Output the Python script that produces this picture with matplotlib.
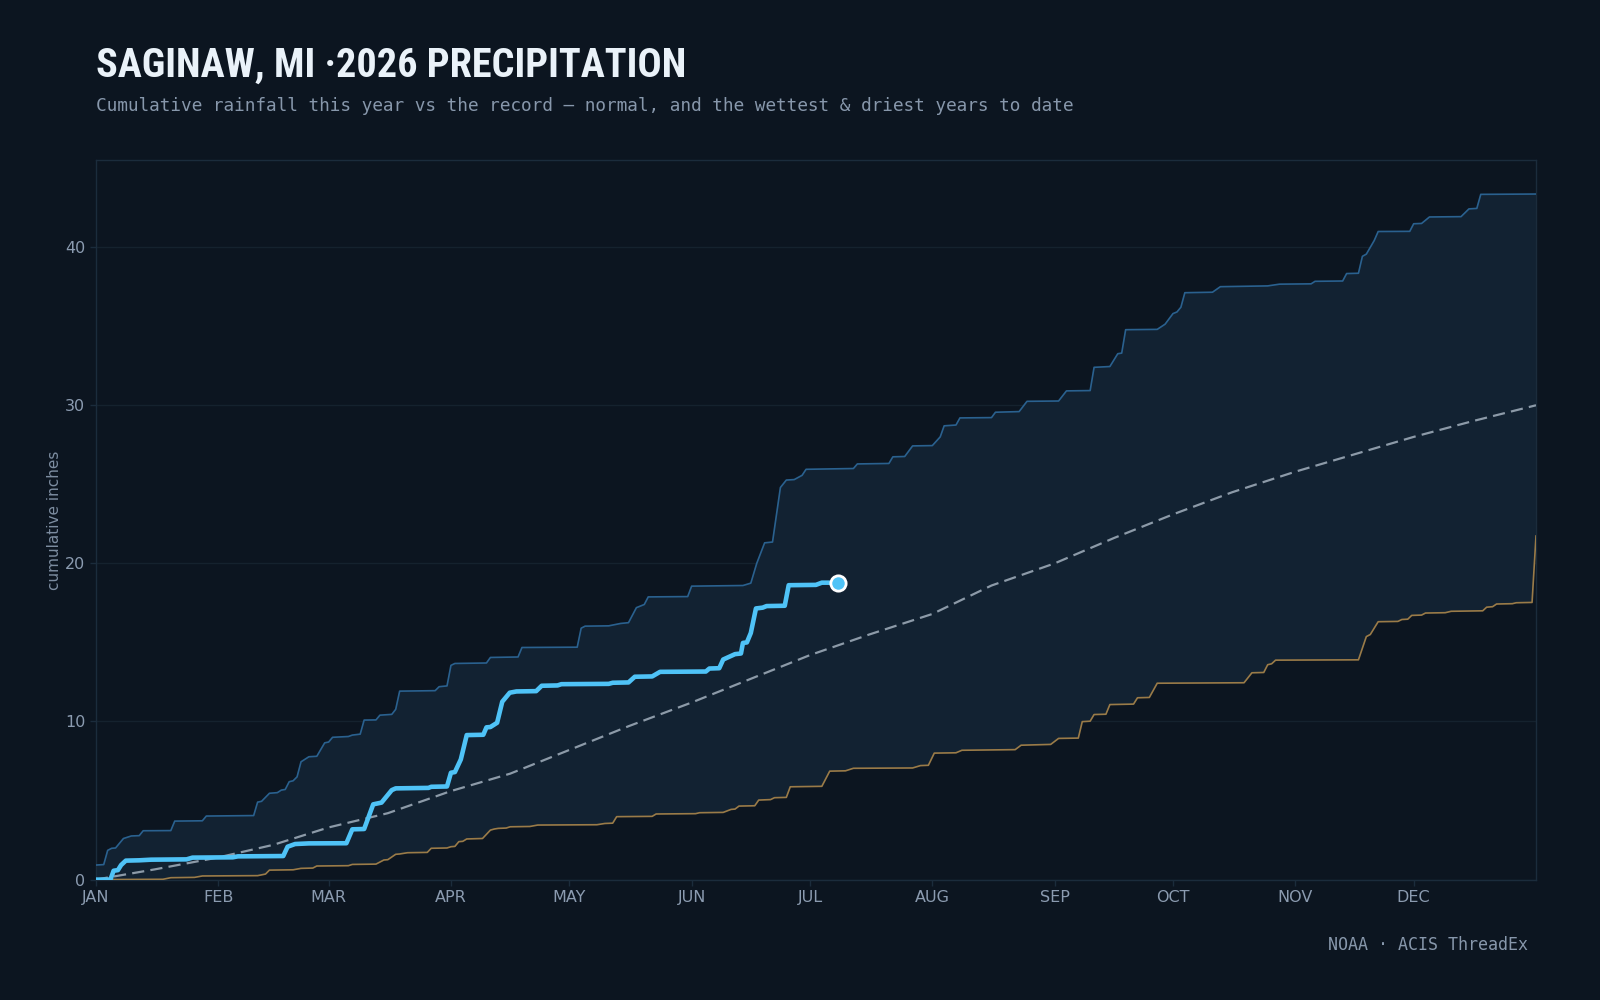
import numpy as np
import matplotlib
matplotlib.use("Agg")
import matplotlib.pyplot as plt
from matplotlib import font_manager

# ---------------- data (day of year, cumulative inches) ----------------
month_labels = ["JAN", "FEB", "MAR", "APR", "MAY", "JUN",
                "JUL", "AUG", "SEP", "OCT", "NOV", "DEC"]
month_starts = [0, 31, 59, 90, 120, 151, 181, 212, 243, 273, 304, 334]
y_ticks = [0, 10, 20, 30, 40]

wet_days = [0, 2, 3, 4, 5, 7, 9, 11, 12, 19, 20, 27, 28, 40, 41, 42, 44, 46, 47, 48,
            49, 50, 51, 52, 54, 56, 58, 59, 60, 64, 65, 67, 68, 71, 72, 75, 76, 77, 86,
            87, 89, 90, 91, 99, 100, 107, 108, 122, 123, 124, 130, 133, 135, 137, 139,
            140, 150, 151, 164, 166, 167.5, 169.5, 171.5, 173.5, 175, 177, 179, 180,
            192, 193, 201, 202, 205, 207, 212, 214, 215, 218, 219, 227, 228, 234, 236,
            244, 246, 252, 253, 257, 259, 260, 261, 269, 271, 273, 274, 275, 276, 283,
            285, 297, 300, 308, 309, 316, 317, 320, 321, 322, 324, 325, 333, 334, 336,
            338, 346, 348, 350, 351, 365]
wet_vals = [0.92, 0.95, 1.85, 1.98, 2.0, 2.6, 2.76, 2.78, 3.09, 3.1, 3.7, 3.72, 4.02,
            4.05, 4.9, 4.95, 5.46, 5.5, 5.66, 5.7, 6.19, 6.25, 6.5, 7.45, 7.77, 7.8,
            8.65, 8.7, 9.0, 9.05, 9.14, 9.2, 10.09, 10.1, 10.4, 10.45, 10.77, 11.92,
            11.95, 12.2, 12.25, 13.55, 13.67, 13.7, 14.05, 14.08, 14.68, 14.7, 15.9,
            16.03, 16.05, 16.2, 16.25, 17.2, 17.4, 17.88, 17.9, 18.56, 18.6, 18.75,
            20.0, 21.3, 21.35, 24.8, 25.27, 25.3, 25.57, 25.95, 26.0, 26.29, 26.32,
            26.74, 26.76, 27.43, 27.45, 28.0, 28.7, 28.75, 29.2, 29.22, 29.56, 29.6,
            30.25, 30.27, 30.91, 30.93, 32.4, 32.45, 33.26, 33.3, 34.78, 34.8, 35.13,
            35.8, 35.9, 36.2, 37.12, 37.15, 37.5, 37.55, 37.66, 37.68, 37.84, 37.86,
            38.33, 38.35, 39.42, 39.56, 40.42, 40.99, 41.0, 41.48, 41.5, 41.91, 41.93,
            42.42, 42.45, 43.34, 43.36]

dry_days = [0, 17, 19, 25, 27, 41, 43, 44, 50, 52, 55, 56, 64, 65, 71, 73, 74, 76, 77,
            79, 84, 85, 89, 90, 91, 92, 93, 94, 98, 100, 101, 102, 104, 105, 110, 112,
            127, 129, 131, 132, 141, 142, 152, 153, 159, 161, 162, 163, 167, 168, 171,
            172, 175, 176, 184, 186, 190, 192, 207, 209, 211, 212.5, 218, 219.5, 233,
            234.5, 242, 244, 249, 250, 252, 253, 256, 257, 263, 264, 267, 269, 291, 293,
            296, 297, 298, 299, 320, 322, 323, 325, 330, 331, 332.5, 333.5, 336, 337,
            342, 343.5, 351.5, 352.5, 354, 355, 359, 360, 364, 365]
dry_vals = [0.0, 0.02, 0.12, 0.14, 0.23, 0.25, 0.35, 0.6, 0.62, 0.71, 0.73, 0.86, 0.88,
            0.96, 0.98, 1.24, 1.26, 1.6, 1.62, 1.7, 1.72, 1.98, 2.0, 2.08, 2.1, 2.4,
            2.42, 2.57, 2.6, 3.13, 3.2, 3.24, 3.26, 3.34, 3.36, 3.45, 3.47, 3.55, 3.57,
            3.98, 4.0, 4.15, 4.17, 4.23, 4.25, 4.44, 4.46, 4.65, 4.67, 5.03, 5.06, 5.18,
            5.2, 5.87, 5.9, 6.86, 6.88, 7.04, 7.06, 7.21, 7.23, 8.0, 8.02, 8.18, 8.22,
            8.5, 8.55, 8.93, 8.95, 9.99, 10.02, 10.44, 10.46, 11.07, 11.1, 11.5, 11.52,
            12.42, 12.45, 13.08, 13.1, 13.59, 13.65, 13.88, 13.9, 15.37, 15.5, 16.31,
            16.33, 16.45, 16.47, 16.71, 16.73, 16.86, 16.88, 16.97, 17.0, 17.23, 17.26,
            17.43, 17.45, 17.51, 17.53, 21.73]

normal_days = [0, 15, 31, 45, 59, 74, 90, 105, 120, 135, 151, 166, 181, 196, 212, 227,
               243, 258, 273, 288, 304, 319, 334, 349, 365]
normal_vals = [0.0, 0.65, 1.4, 2.2, 3.3, 4.2, 5.6, 6.7, 8.2, 9.7, 11.2, 12.7, 14.2,
               15.5, 16.8, 18.6, 20.0, 21.6, 23.1, 24.5, 25.8, 26.9, 28.0, 29.0, 30.0]

cur_days = [0, 3.7, 4.5, 5.6, 6.4, 7.6, 11, 14, 23, 24.5, 34.7, 36, 47.5, 48.6, 50.5,
            54, 63.5, 65, 68, 70.3, 72.4, 75, 76, 84.3, 85, 89, 90, 91, 92.5, 94, 98.2,
            99, 100, 101.7, 103, 104.9, 106.6, 111.6, 113, 117, 118, 130, 131, 135,
            136.6, 141, 143, 154.6, 155.5, 158, 159, 162, 163.5, 164, 165, 166, 167.3,
            169, 170, 174.6, 175.6, 182.5, 184, 188]
cur_vals = [0.0, 0.0, 0.56, 0.6, 0.92, 1.2, 1.22, 1.26, 1.28, 1.39, 1.41, 1.47, 1.49,
            2.08, 2.25, 2.29, 2.3, 3.18, 3.2, 4.76, 4.87, 5.66, 5.77, 5.8, 5.87, 5.89,
            6.76, 6.8, 7.6, 9.14, 9.16, 9.63, 9.65, 9.92, 11.25, 11.82, 11.9, 11.92,
            12.26, 12.28, 12.36, 12.38, 12.45, 12.47, 12.83, 12.85, 13.14, 13.16, 13.35,
            13.37, 13.92, 14.26, 14.3, 14.97, 15.0, 15.6, 17.15, 17.2, 17.3, 17.32,
            18.62, 18.64, 18.78, 18.78]

# ---------------- styling ----------------
BG = "#0c1520"
FILL = "#122232"
WET_C = "#2a618f"
DRY_C = "#9a7b48"
NORM_C = "#8c9aa8"
CUR_C = "#4fc3f7"
GRID_C = "#15222e"
SPINE_C = "#1b2c3c"
TICK_LBL = "#8b9bb0"

available = {f.name for f in font_manager.fontManager.ttflist}
title_family = "DejaVu Sans"
for cand in ["Liberation Sans Narrow", "DejaVu Sans Condensed", "Roboto Condensed",
             "Open Sans Condensed", "Noto Sans", "Roboto"]:
    if cand in available:
        title_family = cand
        break

fig = plt.figure(figsize=(16, 10), dpi=100, facecolor=BG)
ax = fig.add_axes([0.0599, 0.1204, 0.9001, 0.7194])
ax.set_facecolor(BG)

ax.fill(np.concatenate([wet_days, dry_days[::-1]]),
        np.concatenate([wet_vals, dry_vals[::-1]]),
        color=FILL, lw=0, zorder=1)
ax.plot(wet_days, wet_vals, color=WET_C, lw=1.2, zorder=3)
ax.plot(dry_days, dry_vals, color=DRY_C, lw=1.2, zorder=3)
ax.plot(normal_days, normal_vals, color=NORM_C, lw=1.6, dashes=(5.5, 2.8), zorder=4)
ax.plot(cur_days, cur_vals, color=CUR_C, lw=3.3, zorder=5,
        solid_joinstyle="round", solid_capstyle="round")
ax.plot(cur_days[-1], cur_vals[-1], "o", ms=11, mfc=CUR_C, mec="white", mew=2, zorder=6)

ax.set_xlim(0, 365)
ax.set_ylim(0, 45.5)
ax.set_xticks(month_starts)
ax.set_xticklabels(month_labels)
ax.set_yticks(y_ticks)
ax.tick_params(axis="both", colors=SPINE_C, labelcolor=TICK_LBL, labelsize=11.5,
               length=4, width=1)
ax.grid(axis="y", color=GRID_C, lw=1, zorder=0)
ax.set_axisbelow(True)
for s in ax.spines.values():
    s.set_color(SPINE_C)
    s.set_linewidth(1)

ax.set_ylabel("cumulative inches", color="#7d8da1", fontsize=11, labelpad=2)

t = fig.text(0.06, 0.9235, "SAGINAW, MI ·2026 PRECIPITATION", family=title_family,
             weight="bold", fontsize=24, color="#eaf2f9", ha="left", va="baseline")
# scale title to target width
fig.canvas.draw()
w = t.get_window_extent().width
target = 592
t.set_fontsize(24 * target / w)

fig.text(0.06, 0.889, "Cumulative rainfall this year vs the record — normal, and the wettest & driest years to date",
         family="DejaVu Sans Mono", fontsize=12.8, color="#8797ab", ha="left", va="baseline")
fig.text(0.955, 0.0555, "NOAA · ACIS ThreadEx", family="DejaVu Sans Mono", fontsize=12,
         color="#8797ab", ha="right", va="center")

fig.savefig("out.png", dpi=100, facecolor=BG)
